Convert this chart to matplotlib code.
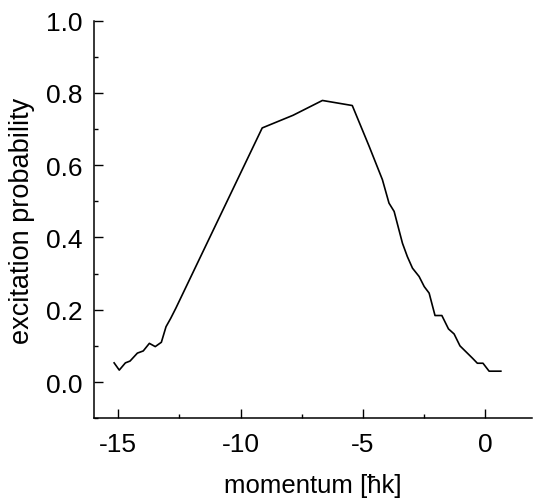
import numpy as np
import matplotlib
matplotlib.use("Agg")
from matplotlib import pyplot as plt
from matplotlib.ticker import MultipleLocator

# values
momentum = [-15.17, -14.96, -14.71, -14.52, -14.22, -13.98, -13.73, -13.49, -13.24,
            -13.05, -12.86, -12.65, -9.12, -7.86, -6.66, -5.44, -4.75, -4.21, -3.94,
            -3.73, -3.39, -3.19, -2.98, -2.71, -2.50, -2.30, -2.06, -1.78, -1.51,
            -1.28, -1.04, -0.80, -0.53, -0.33, -0.10, 0.15, 0.63]
probability = [0.053, 0.033, 0.053, 0.058, 0.080, 0.086, 0.107, 0.098, 0.110,
               0.153, 0.176, 0.204, 0.703, 0.738, 0.779, 0.765, 0.652, 0.560, 0.495,
               0.472, 0.384, 0.347, 0.315, 0.292, 0.264, 0.246, 0.184, 0.184, 0.147,
               0.133, 0.100, 0.084, 0.066, 0.052, 0.052, 0.030, 0.030]

plt.rcParams['font.family'] = ['Liberation Sans', 'DejaVu Sans']

fig = plt.figure(figsize=(5.33, 5.02), dpi=100)
ax = fig.add_axes([0.176, 0.165, 0.822, 0.792])

ax.plot(momentum, probability, color='black', lw=1.2)

ax.set_xlim(-16, 1.9)
ax.set_ylim(-0.1, 1.0)
ax.xaxis.set_major_locator(MultipleLocator(5))
ax.xaxis.set_minor_locator(MultipleLocator(2.5))
ax.yaxis.set_major_locator(MultipleLocator(0.2))
ax.yaxis.set_minor_locator(MultipleLocator(0.1))
ax.yaxis.set_major_formatter(matplotlib.ticker.FormatStrFormatter('%.1f'))
ax.xaxis.set_major_formatter(matplotlib.ticker.FuncFormatter(lambda v, p: '%d' % v))

for s in ['top', 'right']:
    ax.spines[s].set_visible(False)
for s in ['left', 'bottom']:
    ax.spines[s].set_linewidth(1.1)

ax.tick_params(which='both', direction='in', width=1.0, labelsize=19)
ax.tick_params(which='major', length=6.5)
ax.tick_params(which='minor', length=3)
ax.tick_params(axis='y', pad=8)
ax.tick_params(axis='x', pad=10)

ax.set_xlabel('momentum [ħk]', fontsize=18.5, labelpad=12)
ax.set_ylabel('excitation probability', fontsize=19.5, labelpad=8)

fig.savefig('out.png', dpi=100)
